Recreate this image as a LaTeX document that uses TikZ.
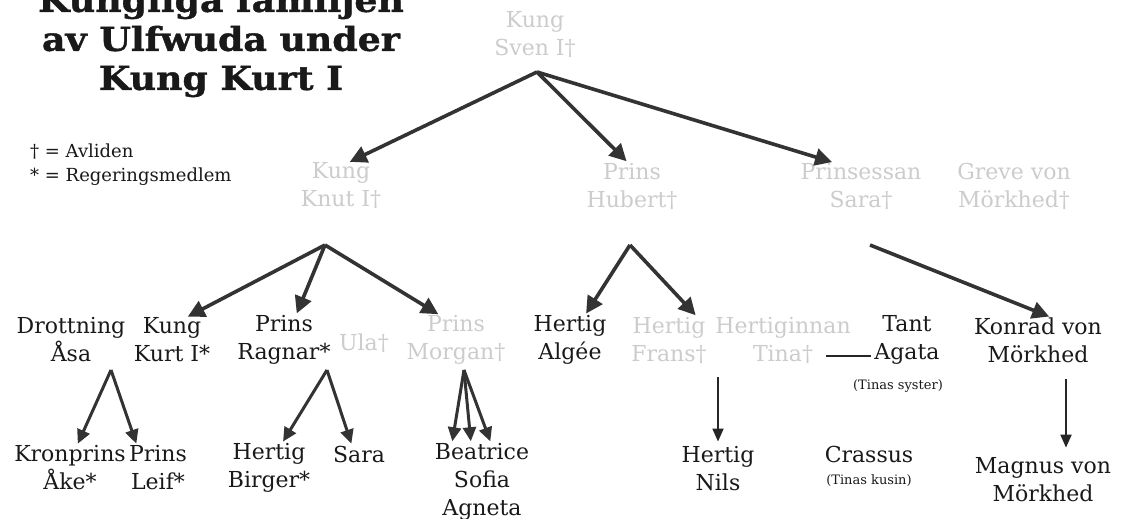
\documentclass[tikz,border=0pt]{standalone}
\usepackage{fontspec}
\setmainfont{DejaVu Serif}
\newfontfamily\titlefam{DejaVu Serif}[FakeStretch=1.1,FakeBold=1.2]
\usetikzlibrary{arrows.meta}
\newcommand{\namefont}{\fontsize{22}{28}\selectfont}
\newcommand{\notefont}{\fontsize{13}{16}\selectfont}
\newcommand{\legendfont}{\fontsize{18}{24}\selectfont}
\newcommand{\titlefont}{\titlefam\fontsize{33}{39}\selectfont\bfseries}
\begin{document}
\begin{tikzpicture}
    [x=1pt,y=-1pt,every node/.style={align=center,inner sep=0pt,font=\namefont,text=black!90},
     dead/.style={text=black!20},
     arr/.style={draw=black!80,line width=3.6pt,-{Triangle[length=17pt,width=17pt]},shorten >=2pt},
     arrsmall/.style={draw=black!80,line width=3pt,-{Triangle[length=14pt,width=13pt]},shorten >=2pt},
     arrthin/.style={draw=black!85,line width=2pt,-{Triangle[length=13pt,width=11pt]}}]
    \useasboundingbox[fill=white] (0,0) rectangle (1122,519);
    % title and legend
    \node[font=\titlefont] (title) at (221,42) {Kungliga familjen\\av Ulfwuda under\\Kung Kurt I};
    \node[anchor=west,align=left,font=\legendfont] (legend) at (30,165) {† = Avliden\\* = Regeringsmedlem};
    % first generations
    \node[dead] (sven) at (535,35) {Kung\\Sven I†};
    \node[dead] (knut) at (341,186) {Kung\\Knut I†};
    \node[dead] (hubert) at (632,186) {Prins\\Hubert†};
    \node[dead] (sara) at (861,186) {Prinsessan\\Sara†};
    \node[dead] (greve) at (1014,186) {Greve von\\Mörkhed†};
    % middle row
    \node (asa) at (71,340) {Drottning\\Åsa};
    \node (kurt) at (172,340) {Kung\\Kurt I*};
    \node (ragnar) at (284,340) {Prins\\Ragnar*};
    \node[dead] (ula) at (364,343) {Ula†};
    \node[dead] (morgan) at (456,340) {Prins\\Morgan†};
    \node (algee) at (570,340) {Hertig\\Algée};
    \node[dead] (frans) at (669,340) {Hertig\\Frans†};
    \node[dead] (tina) at (783,340) {Hertiginnan\\Tina†};
    \node (agata) at (907,340) {Tant\\Agata};
    \node[font=\notefont] (agatanote) at (898,386) {(Tinas syster)};
    \node (konrad) at (1038,340) {Konrad von\\Mörkhed};
    % bottom row
    \node (ake) at (70,468) {Kronprins\\Åke*};
    \node (leif) at (158,468) {Prins\\Leif*};
    \node (birger) at (269,468) {Hertig\\Birger*};
    \node (sarab) at (359,454) {Sara};
    \node (beatrice) at (482,482) {Beatrice\\Sofia\\Agneta};
    \node (nils) at (718,469) {Hertig\\Nils};
    \node (crassus) at (869,454) {Crassus};
    \node[font=\notefont] (crassusnote) at (869,481) {(Tinas kusin)};
    \node (magnus) at (1043,480) {Magnus von\\Mörkhed};
    % forks
    \coordinate (svenfork) at (537,72);
    \coordinate (knutfork) at (325,245);
    \coordinate (hubertfork) at (630,245);
    \coordinate (sarafork) at (870,245);
    \coordinate (asafork) at (111,370);
    \coordinate (ragnarfork) at (327,370);
    \coordinate (morganfork) at (464,370);
    \coordinate (fransfoot) at (718,377);
    \coordinate (konradfoot) at (1066,379);
    % arrows
    \draw[arr] (svenfork) -- ([xshift=7]knut.north);
    \draw[arr] (svenfork) -- ([xshift=-4]hubert.north);
    \draw[arr] (svenfork) -- ([xshift=-27]sara.north);
    \draw[arr] (knutfork) -- ([xshift=14]kurt.north);
    \draw[arr] (knutfork) -- ([xshift=12]ragnar.north);
    \draw[arr] (knutfork) -- ([xshift=-16]morgan.north);
    \draw[arr] (hubertfork) -- ([xshift=15]algee.north);
    \draw[arr] (hubertfork) -- ([xshift=28]frans.north);
    \draw[arr] (sarafork) -- ([xshift=13]konrad.north);
    \draw[arrsmall] (asafork) -- ([xshift=7]ake.north);
    \draw[arrsmall] (asafork) -- ([xshift=-21]leif.north);
    \draw[arrsmall] (ragnarfork) -- ([xshift=13]birger.north);
    \draw[arrsmall] (ragnarfork) -- ([xshift=-7]sarab.north);
    \draw[arrsmall] (morganfork) -- ([xshift=-30]beatrice.north);
    \draw[arrsmall] (morganfork) -- ([xshift=-11]beatrice.north);
    \draw[arrsmall] (morganfork) -- ([xshift=9]beatrice.north);
    \draw[arrthin,shorten >=5pt] (fransfoot) -- (nils.north -| fransfoot);
    \draw[arrthin,shorten >=10pt] (konradfoot) -- (magnus.north -| konradfoot);
    % Tina and Agata
    \draw[line width=1.8pt,black!85] ([xshift=-25]tina.east |- 0,356) -- ([xshift=-3]agata.west |- 0,356);
\end{tikzpicture}
\end{document}
